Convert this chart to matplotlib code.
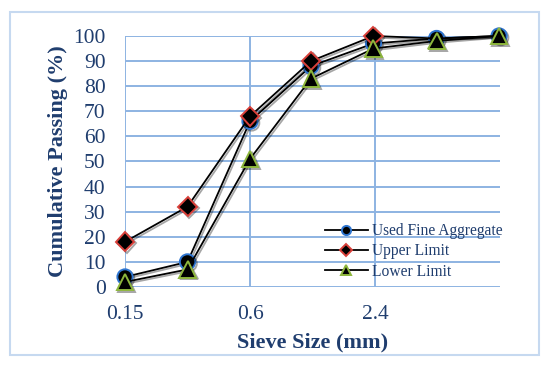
import matplotlib.pyplot as plt
import matplotlib.patheffects as pe
from matplotlib.patches import Rectangle
from matplotlib.ticker import FixedLocator, NullLocator

# sieve sizes (mm) and cumulative passing (%)
sieve = [0.15, 0.3, 0.6, 1.18, 2.36, 4.75, 9.5]
used = [4, 10, 66, 88, 97, 99, 100]
upper = [18, 32, 68, 90, 100, 99, 100]
lower = [2, 7, 51, 83, 95, 98, 100]

x_ticks = [0.15, 0.6, 2.4]
x_labels = ["0.15", "0.6", "2.4"]
y_ticks = list(range(0, 101, 10))

TEXT = "#1F3D6E"
GRID = "#8DB3E2"

plt.rcParams["font.family"] = ["Liberation Serif", "DejaVu Serif"]

fig = plt.figure(figsize=(5.5, 3.67), dpi=100)
ax = fig.add_axes([0.2273, 0.218, 0.6818, 0.684])

shadow = [pe.SimpleLineShadow(offset=(1.2, -1.2), shadow_color="black", alpha=0.35),
          pe.Normal()]

# upper limit markers past 2.36 mm are hidden under the others in the source chart
series = [
    (used, "o", "#2E75D0", "Used Fine Aggregate", 11, None),
    (upper, "D", "#D9403A", "Upper Limit", 9.5, [0, 1, 2, 3, 4]),
    (lower, "^", "#8DB63C", "Lower Limit", 12, None),
]
for vals, mk, ec, name, ms, every in series:
    ax.plot(sieve, vals, color="black", lw=1.3, marker=mk, ms=ms, markevery=every,
            mfc="black", mec=ec, mew=1.4, label=name, clip_on=False, zorder=3,
            path_effects=shadow)

ax.set_xscale("log", base=2)
ax.set_xlim(0.15, 9.6)
ax.set_ylim(0, 100)
ax.xaxis.set_major_locator(FixedLocator(x_ticks))
ax.xaxis.set_minor_locator(NullLocator())
ax.set_xticklabels(x_labels)
ax.set_yticks(y_ticks)

ax.grid(True, color=GRID, lw=1.4)
ax.set_axisbelow(True)
for s in ax.spines.values():
    s.set_visible(False)
ax.tick_params(length=0, labelsize=15.5, labelcolor=TEXT)
ax.tick_params(axis="x", pad=13)
ax.tick_params(axis="y", pad=14)

ax.set_xlabel("Sieve Size (mm)", fontsize=16, fontweight="bold", color=TEXT, labelpad=6)
ax.set_ylabel("Cumulative Passing (%)", fontsize=16, fontweight="bold", color=TEXT, labelpad=4)

leg = ax.legend(loc="upper left", bbox_to_anchor=(0.533, 0.255), frameon=False,
                fontsize=11.2, labelcolor=TEXT, markerscale=0.6, handlelength=2.75,
                handletextpad=0.3, labelspacing=0.28, borderaxespad=0, borderpad=0)
for h in leg.legend_handles:
    h.set_path_effects([])

fig.patches.append(Rectangle((10 / 550, 1 - 355 / 367), 529 / 550, 343 / 367,
                             transform=fig.transFigure, fill=False,
                             edgecolor="#C6D9F0", lw=1.5))

fig.savefig("out.png", dpi=100)
